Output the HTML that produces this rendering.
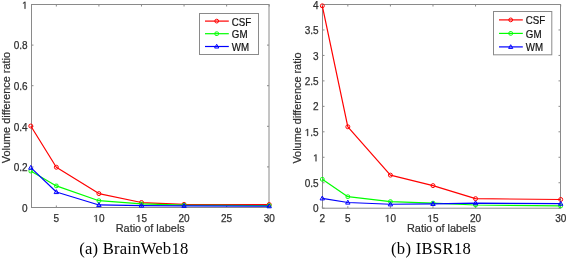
<!DOCTYPE html>
<html><head><meta charset="utf-8"><style>
html,body{margin:0;padding:0;background:#fff;width:567px;height:259px;overflow:hidden}
svg{display:block;will-change:transform;filter:blur(0.35px)}
.t{font-family:"Liberation Sans",sans-serif;font-size:10px;fill:#303030;stroke:#303030;stroke-width:0.25px}
.o{fill:#303030;stroke:#303030;stroke-width:51px}
.l{font-family:"Liberation Sans",sans-serif;font-size:10.9px;fill:#303030;stroke:#303030;stroke-width:0.2px}
.g{font-family:"Liberation Sans",sans-serif;font-size:10.6px;fill:#111;stroke:#111;stroke-width:0.2px}
.c{font-family:"Liberation Serif",serif;font-size:16.6px;fill:#000}
</style></head><body>
<svg width="567" height="259" viewBox="0 0 567 259">
<line x1="56.34" y1="207.5" x2="56.34" y2="205.5" stroke="#8a8a8a" stroke-width="1"/>
<line x1="56.34" y1="4.5" x2="56.34" y2="6.5" stroke="#8a8a8a" stroke-width="1"/>
<line x1="98.91" y1="207.5" x2="98.91" y2="205.5" stroke="#8a8a8a" stroke-width="1"/>
<line x1="98.91" y1="4.5" x2="98.91" y2="6.5" stroke="#8a8a8a" stroke-width="1"/>
<line x1="141.49" y1="207.5" x2="141.49" y2="205.5" stroke="#8a8a8a" stroke-width="1"/>
<line x1="141.49" y1="4.5" x2="141.49" y2="6.5" stroke="#8a8a8a" stroke-width="1"/>
<line x1="184.06" y1="207.5" x2="184.06" y2="205.5" stroke="#8a8a8a" stroke-width="1"/>
<line x1="184.06" y1="4.5" x2="184.06" y2="6.5" stroke="#8a8a8a" stroke-width="1"/>
<line x1="226.63" y1="207.5" x2="226.63" y2="205.5" stroke="#8a8a8a" stroke-width="1"/>
<line x1="226.63" y1="4.5" x2="226.63" y2="6.5" stroke="#8a8a8a" stroke-width="1"/>
<line x1="269.20" y1="207.5" x2="269.20" y2="205.5" stroke="#8a8a8a" stroke-width="1"/>
<line x1="269.20" y1="4.5" x2="269.20" y2="6.5" stroke="#8a8a8a" stroke-width="1"/>
<line x1="31.5" y1="207.50" x2="33.5" y2="207.50" stroke="#8a8a8a" stroke-width="1"/>
<line x1="269" y1="207.50" x2="267.0" y2="207.50" stroke="#8a8a8a" stroke-width="1"/>
<line x1="31.5" y1="166.90" x2="33.5" y2="166.90" stroke="#8a8a8a" stroke-width="1"/>
<line x1="269" y1="166.90" x2="267.0" y2="166.90" stroke="#8a8a8a" stroke-width="1"/>
<line x1="31.5" y1="126.30" x2="33.5" y2="126.30" stroke="#8a8a8a" stroke-width="1"/>
<line x1="269" y1="126.30" x2="267.0" y2="126.30" stroke="#8a8a8a" stroke-width="1"/>
<line x1="31.5" y1="85.70" x2="33.5" y2="85.70" stroke="#8a8a8a" stroke-width="1"/>
<line x1="269" y1="85.70" x2="267.0" y2="85.70" stroke="#8a8a8a" stroke-width="1"/>
<line x1="31.5" y1="45.10" x2="33.5" y2="45.10" stroke="#8a8a8a" stroke-width="1"/>
<line x1="269" y1="45.10" x2="267.0" y2="45.10" stroke="#8a8a8a" stroke-width="1"/>
<line x1="31.5" y1="4.50" x2="33.5" y2="4.50" stroke="#8a8a8a" stroke-width="1"/>
<line x1="269" y1="4.50" x2="267.0" y2="4.50" stroke="#8a8a8a" stroke-width="1"/>
<rect x="31.5" y="4.5" width="237.5" height="203.0" fill="none" stroke="#8a8a8a" stroke-width="1"/>
<text x="22.04" y="211.70" class="t">0</text>
<text x="13.70" y="171.10" class="t">0.2</text>
<text x="13.70" y="130.50" class="t">0.4</text>
<text x="13.70" y="89.90" class="t">0.6</text>
<text x="13.70" y="49.30" class="t">0.8</text>
<text x="22.04" y="8.70" class="t"> </text><path transform="translate(22.04,8.70) scale(0.004883,-0.004883)" d="M515,0L515,1237L197,1010L197,1180L530,1409L696,1409L696,0Z" class="o"/>
<text x="53.56" y="221.90" class="t">5</text>
<text x="93.35" y="221.90" class="t"> 0</text><path transform="translate(93.35,221.90) scale(0.004883,-0.004883)" d="M515,0L515,1237L197,1010L197,1180L530,1409L696,1409L696,0Z" class="o"/>
<text x="135.92" y="221.90" class="t"> 5</text><path transform="translate(135.92,221.90) scale(0.004883,-0.004883)" d="M515,0L515,1237L197,1010L197,1180L530,1409L696,1409L696,0Z" class="o"/>
<text x="178.50" y="221.90" class="t">20</text>
<text x="221.07" y="221.90" class="t">25</text>
<text x="263.64" y="221.90" class="t">30</text>
<text x="150.25" y="231.7" text-anchor="middle" class="l">Ratio of labels</text>
<text transform="translate(10,107.60) rotate(-90)" x="0" y="0" text-anchor="middle" class="l">Volume difference ratio</text>
<polyline points="30.80,126.04 56.34,167.23 98.91,193.61 141.49,202.53 184.06,204.36 269.20,204.56" fill="none" stroke="#ff0000" stroke-width="1.2" stroke-linejoin="round"/>
<circle cx="30.80" cy="126.04" r="2.0" fill="none" stroke="#ff0000" stroke-width="1"/>
<circle cx="56.34" cy="167.23" r="2.0" fill="none" stroke="#ff0000" stroke-width="1"/>
<circle cx="98.91" cy="193.61" r="2.0" fill="none" stroke="#ff0000" stroke-width="1"/>
<circle cx="141.49" cy="202.53" r="2.0" fill="none" stroke="#ff0000" stroke-width="1"/>
<circle cx="184.06" cy="204.36" r="2.0" fill="none" stroke="#ff0000" stroke-width="1"/>
<circle cx="269.20" cy="204.56" r="2.0" fill="none" stroke="#ff0000" stroke-width="1"/>
<polyline points="30.80,171.08 56.34,185.90 98.91,200.71 141.49,203.95 184.06,205.17 269.20,205.58" fill="none" stroke="#00ff00" stroke-width="1.2" stroke-linejoin="round"/>
<rect x="29.05" y="169.33" width="3.50" height="3.50" rx="1.05" fill="none" stroke="#00ff00" stroke-width="1"/>
<rect x="54.59" y="184.15" width="3.50" height="3.50" rx="1.05" fill="none" stroke="#00ff00" stroke-width="1"/>
<rect x="97.16" y="198.96" width="3.50" height="3.50" rx="1.05" fill="none" stroke="#00ff00" stroke-width="1"/>
<rect x="139.74" y="202.20" width="3.50" height="3.50" rx="1.05" fill="none" stroke="#00ff00" stroke-width="1"/>
<rect x="182.31" y="203.42" width="3.50" height="3.50" rx="1.05" fill="none" stroke="#00ff00" stroke-width="1"/>
<rect x="267.45" y="203.83" width="3.50" height="3.50" rx="1.05" fill="none" stroke="#00ff00" stroke-width="1"/>
<polyline points="30.80,167.63 56.34,191.98 98.91,204.97 141.49,205.58 184.06,205.78 269.20,206.19" fill="none" stroke="#0000ff" stroke-width="1.2" stroke-linejoin="round"/>
<polygon points="30.80,165.33 33.00,169.23 28.60,169.23" fill="none" stroke="#0000ff" stroke-width="1"/>
<polygon points="56.34,189.68 58.54,193.58 54.14,193.58" fill="none" stroke="#0000ff" stroke-width="1"/>
<polygon points="98.91,202.67 101.11,206.57 96.71,206.57" fill="none" stroke="#0000ff" stroke-width="1"/>
<polygon points="141.49,203.28 143.69,207.18 139.29,207.18" fill="none" stroke="#0000ff" stroke-width="1"/>
<polygon points="184.06,203.48 186.26,207.38 181.86,207.38" fill="none" stroke="#0000ff" stroke-width="1"/>
<polygon points="269.20,203.89 271.40,207.79 267.00,207.79" fill="none" stroke="#0000ff" stroke-width="1"/>
<rect x="199.5" y="13.5" width="59.0" height="41.0" fill="#fff" stroke="#8a8a8a" stroke-width="1"/>
<line x1="205.0" y1="21.1" x2="228.8" y2="21.1" stroke="#ff0000" stroke-width="1.2"/>
<circle cx="216.70" cy="21.10" r="1.9" fill="none" stroke="#ff0000" stroke-width="1"/>
<text transform="translate(231.80,25.50) scale(0.92,1)" class="g">CSF</text>
<line x1="205.0" y1="33.7" x2="228.8" y2="33.7" stroke="#00ff00" stroke-width="1.2"/>
<rect x="214.95" y="31.95" width="3.50" height="3.50" rx="1.05" fill="none" stroke="#00ff00" stroke-width="1"/>
<text transform="translate(231.80,38.10) scale(0.92,1)" class="g">GM</text>
<line x1="205.0" y1="46.5" x2="228.8" y2="46.5" stroke="#0000ff" stroke-width="1.2"/>
<polygon points="216.70,44.31 218.79,48.02 214.61,48.02" fill="none" stroke="#0000ff" stroke-width="1"/>
<text transform="translate(231.80,50.90) scale(0.92,1)" class="g">WM</text>
<text x="79.2" y="253.6" class="c" textLength="109.0">(a) BrainWeb18</text>
<line x1="322.30" y1="208.2" x2="322.30" y2="206.2" stroke="#8a8a8a" stroke-width="1"/>
<line x1="322.30" y1="4.5" x2="322.30" y2="6.5" stroke="#8a8a8a" stroke-width="1"/>
<line x1="347.84" y1="208.2" x2="347.84" y2="206.2" stroke="#8a8a8a" stroke-width="1"/>
<line x1="347.84" y1="4.5" x2="347.84" y2="6.5" stroke="#8a8a8a" stroke-width="1"/>
<line x1="390.41" y1="208.2" x2="390.41" y2="206.2" stroke="#8a8a8a" stroke-width="1"/>
<line x1="390.41" y1="4.5" x2="390.41" y2="6.5" stroke="#8a8a8a" stroke-width="1"/>
<line x1="432.99" y1="208.2" x2="432.99" y2="206.2" stroke="#8a8a8a" stroke-width="1"/>
<line x1="432.99" y1="4.5" x2="432.99" y2="6.5" stroke="#8a8a8a" stroke-width="1"/>
<line x1="475.56" y1="208.2" x2="475.56" y2="206.2" stroke="#8a8a8a" stroke-width="1"/>
<line x1="475.56" y1="4.5" x2="475.56" y2="6.5" stroke="#8a8a8a" stroke-width="1"/>
<line x1="560.70" y1="208.2" x2="560.70" y2="206.2" stroke="#8a8a8a" stroke-width="1"/>
<line x1="560.70" y1="4.5" x2="560.70" y2="6.5" stroke="#8a8a8a" stroke-width="1"/>
<line x1="322.5" y1="208.20" x2="324.5" y2="208.20" stroke="#8a8a8a" stroke-width="1"/>
<line x1="560.5" y1="208.20" x2="558.5" y2="208.20" stroke="#8a8a8a" stroke-width="1"/>
<line x1="322.5" y1="182.74" x2="324.5" y2="182.74" stroke="#8a8a8a" stroke-width="1"/>
<line x1="560.5" y1="182.74" x2="558.5" y2="182.74" stroke="#8a8a8a" stroke-width="1"/>
<line x1="322.5" y1="157.27" x2="324.5" y2="157.27" stroke="#8a8a8a" stroke-width="1"/>
<line x1="560.5" y1="157.27" x2="558.5" y2="157.27" stroke="#8a8a8a" stroke-width="1"/>
<line x1="322.5" y1="131.81" x2="324.5" y2="131.81" stroke="#8a8a8a" stroke-width="1"/>
<line x1="560.5" y1="131.81" x2="558.5" y2="131.81" stroke="#8a8a8a" stroke-width="1"/>
<line x1="322.5" y1="106.35" x2="324.5" y2="106.35" stroke="#8a8a8a" stroke-width="1"/>
<line x1="560.5" y1="106.35" x2="558.5" y2="106.35" stroke="#8a8a8a" stroke-width="1"/>
<line x1="322.5" y1="80.89" x2="324.5" y2="80.89" stroke="#8a8a8a" stroke-width="1"/>
<line x1="560.5" y1="80.89" x2="558.5" y2="80.89" stroke="#8a8a8a" stroke-width="1"/>
<line x1="322.5" y1="55.43" x2="324.5" y2="55.43" stroke="#8a8a8a" stroke-width="1"/>
<line x1="560.5" y1="55.43" x2="558.5" y2="55.43" stroke="#8a8a8a" stroke-width="1"/>
<line x1="322.5" y1="29.96" x2="324.5" y2="29.96" stroke="#8a8a8a" stroke-width="1"/>
<line x1="560.5" y1="29.96" x2="558.5" y2="29.96" stroke="#8a8a8a" stroke-width="1"/>
<line x1="322.5" y1="4.50" x2="324.5" y2="4.50" stroke="#8a8a8a" stroke-width="1"/>
<line x1="560.5" y1="4.50" x2="558.5" y2="4.50" stroke="#8a8a8a" stroke-width="1"/>
<rect x="322.5" y="4.5" width="238.0" height="203.7" fill="none" stroke="#8a8a8a" stroke-width="1"/>
<text x="313.04" y="212.30" class="t">0</text>
<text x="304.70" y="186.84" class="t">0.5</text>
<text x="313.04" y="161.37" class="t"> </text><path transform="translate(313.04,161.37) scale(0.004883,-0.004883)" d="M515,0L515,1237L197,1010L197,1180L530,1409L696,1409L696,0Z" class="o"/>
<text x="304.70" y="135.91" class="t"> .5</text><path transform="translate(304.70,135.91) scale(0.004883,-0.004883)" d="M515,0L515,1237L197,1010L197,1180L530,1409L696,1409L696,0Z" class="o"/>
<text x="313.04" y="110.45" class="t">2</text>
<text x="304.70" y="84.99" class="t">2.5</text>
<text x="313.04" y="59.53" class="t">3</text>
<text x="304.70" y="34.06" class="t">3.5</text>
<text x="313.04" y="8.60" class="t">4</text>
<text x="319.52" y="221.90" class="t">2</text>
<text x="345.06" y="221.90" class="t">5</text>
<text x="384.85" y="221.90" class="t"> 0</text><path transform="translate(384.85,221.90) scale(0.004883,-0.004883)" d="M515,0L515,1237L197,1010L197,1180L530,1409L696,1409L696,0Z" class="o"/>
<text x="427.42" y="221.90" class="t"> 5</text><path transform="translate(427.42,221.90) scale(0.004883,-0.004883)" d="M515,0L515,1237L197,1010L197,1180L530,1409L696,1409L696,0Z" class="o"/>
<text x="470.00" y="221.90" class="t">20</text>
<text x="555.14" y="221.90" class="t">30</text>
<text x="441.50" y="231.7" text-anchor="middle" class="l">Ratio of labels</text>
<text transform="translate(301.3,107.95) rotate(-90)" x="0" y="0" text-anchor="middle" class="l">Volume difference ratio</text>
<polyline points="322.30,5.82 347.84,126.80 390.41,175.14 432.99,185.64 475.56,198.68 560.70,199.49" fill="none" stroke="#ff0000" stroke-width="1.2" stroke-linejoin="round"/>
<circle cx="322.30" cy="5.82" r="2.0" fill="none" stroke="#ff0000" stroke-width="1"/>
<circle cx="347.84" cy="126.80" r="2.0" fill="none" stroke="#ff0000" stroke-width="1"/>
<circle cx="390.41" cy="175.14" r="2.0" fill="none" stroke="#ff0000" stroke-width="1"/>
<circle cx="432.99" cy="185.64" r="2.0" fill="none" stroke="#ff0000" stroke-width="1"/>
<circle cx="475.56" cy="198.68" r="2.0" fill="none" stroke="#ff0000" stroke-width="1"/>
<circle cx="560.70" cy="199.49" r="2.0" fill="none" stroke="#ff0000" stroke-width="1"/>
<polyline points="322.30,179.30 347.84,196.70 390.41,201.62 432.99,203.14 475.56,205.02 560.70,205.93" fill="none" stroke="#00ff00" stroke-width="1.2" stroke-linejoin="round"/>
<rect x="320.55" y="177.55" width="3.50" height="3.50" rx="1.05" fill="none" stroke="#00ff00" stroke-width="1"/>
<rect x="346.09" y="194.95" width="3.50" height="3.50" rx="1.05" fill="none" stroke="#00ff00" stroke-width="1"/>
<rect x="388.66" y="199.87" width="3.50" height="3.50" rx="1.05" fill="none" stroke="#00ff00" stroke-width="1"/>
<rect x="431.24" y="201.39" width="3.50" height="3.50" rx="1.05" fill="none" stroke="#00ff00" stroke-width="1"/>
<rect x="473.81" y="203.27" width="3.50" height="3.50" rx="1.05" fill="none" stroke="#00ff00" stroke-width="1"/>
<rect x="558.95" y="204.18" width="3.50" height="3.50" rx="1.05" fill="none" stroke="#00ff00" stroke-width="1"/>
<polyline points="322.30,198.32 347.84,202.48 390.41,204.26 432.99,203.85 475.56,203.14 560.70,203.65" fill="none" stroke="#0000ff" stroke-width="1.2" stroke-linejoin="round"/>
<polygon points="322.30,196.02 324.50,199.92 320.10,199.92" fill="none" stroke="#0000ff" stroke-width="1"/>
<polygon points="347.84,200.18 350.04,204.08 345.64,204.08" fill="none" stroke="#0000ff" stroke-width="1"/>
<polygon points="390.41,201.96 392.61,205.86 388.21,205.86" fill="none" stroke="#0000ff" stroke-width="1"/>
<polygon points="432.99,201.55 435.19,205.45 430.79,205.45" fill="none" stroke="#0000ff" stroke-width="1"/>
<polygon points="475.56,200.84 477.76,204.74 473.36,204.74" fill="none" stroke="#0000ff" stroke-width="1"/>
<polygon points="560.70,201.35 562.90,205.25 558.50,205.25" fill="none" stroke="#0000ff" stroke-width="1"/>
<rect x="493.5" y="11.5" width="58.299999999999955" height="43.3" fill="#fff" stroke="#8a8a8a" stroke-width="1"/>
<line x1="499.0" y1="19.9" x2="522.8" y2="19.9" stroke="#ff0000" stroke-width="1.2"/>
<circle cx="510.70" cy="19.90" r="1.9" fill="none" stroke="#ff0000" stroke-width="1"/>
<text transform="translate(525.80,24.30) scale(0.92,1)" class="g">CSF</text>
<line x1="499.0" y1="33.4" x2="522.8" y2="33.4" stroke="#00ff00" stroke-width="1.2"/>
<rect x="508.95" y="31.65" width="3.50" height="3.50" rx="1.05" fill="none" stroke="#00ff00" stroke-width="1"/>
<text transform="translate(525.80,37.80) scale(0.92,1)" class="g">GM</text>
<line x1="499.0" y1="46.9" x2="522.8" y2="46.9" stroke="#0000ff" stroke-width="1.2"/>
<polygon points="510.70,44.71 512.79,48.42 508.61,48.42" fill="none" stroke="#0000ff" stroke-width="1"/>
<text transform="translate(525.80,51.30) scale(0.92,1)" class="g">WM</text>
<text x="391.0" y="253.6" class="c" textLength="79.8">(b) IBSR18</text>
</svg>
</body></html>
